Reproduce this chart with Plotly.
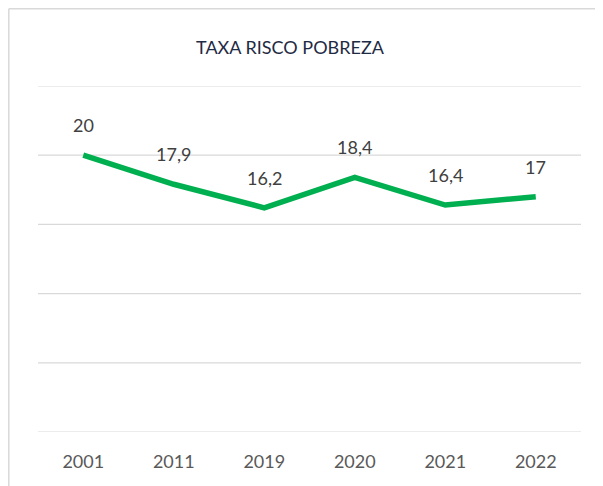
import plotly.graph_objects as go

years = ["2001", "2011", "2019", "2020", "2021", "2022"]
values = [20, 17.9, 16.2, 18.4, 16.4, 17]
labels = ["20", "17,9", "16,2", "18,4", "16,4", "17"]
title_text = "TAXA RISCO POBREZA"
grid_vals = [0, 5, 10, 15, 20, 25]

FONT = "Lato, Liberation Sans, sans-serif"

W, H = 595, 478
L, R, T, B = 30, 22, 78, 54
pw, ph = W - L - R, H - T - B

fig = go.Figure()

# gridlines drawn as shapes so the edge lines (0 and 25) show too
for g in grid_vals:
    fig.add_shape(type="line", xref="paper", yref="y", x0=0, x1=1, y0=g, y1=g,
                  line=dict(color="#d9d9d9", width=1.2), layer="below")

fig.add_trace(go.Scatter(
    x=list(range(len(years))), y=values, mode="lines",
    line=dict(color="#00B050", width=5.5),
    hoverinfo="skip", showlegend=False, cliponaxis=False,
))

for i, (y, t) in enumerate(zip(values, labels)):
    fig.add_annotation(x=i, y=y, text=t, showarrow=False, yshift=30,
                       font=dict(family=FONT, size=18, color="#404040"))

# chart border (left + top)
bx = (0.8 - L) / pw
by = (H - 0.8 - B) / ph
fig.add_shape(type="line", xref="paper", yref="paper",
              x0=bx, x1=bx, y0=-0.3, y1=by,
              line=dict(color="#d9d9d9", width=1.5))
fig.add_shape(type="line", xref="paper", yref="paper",
              x0=bx, x1=1.2, y0=by, y1=by,
              line=dict(color="#d9d9d9", width=1.5))

fig.update_layout(
    width=W, height=H,
    margin=dict(l=L, r=R, t=T, b=B),
    paper_bgcolor="white", plot_bgcolor="white",
    title=dict(text=title_text, x=282 / W, xanchor="center", y=1 - 40 / H, yanchor="middle",
               font=dict(family=FONT, size=18, color="#1f2a44")),
    xaxis=dict(range=[-0.5, 5.5], tickmode="array", tickvals=list(range(len(years))),
               ticktext=years, showgrid=False, zeroline=False,
               showline=False, ticks="", ticklabelstandoff=17,
               tickfont=dict(family=FONT, size=18, color="#595959")),
    yaxis=dict(range=[0, 25], tickvals=grid_vals, showgrid=False,
               zeroline=False, showticklabels=False, showline=False, ticks=""),
)

fig.write_html("out.html")
